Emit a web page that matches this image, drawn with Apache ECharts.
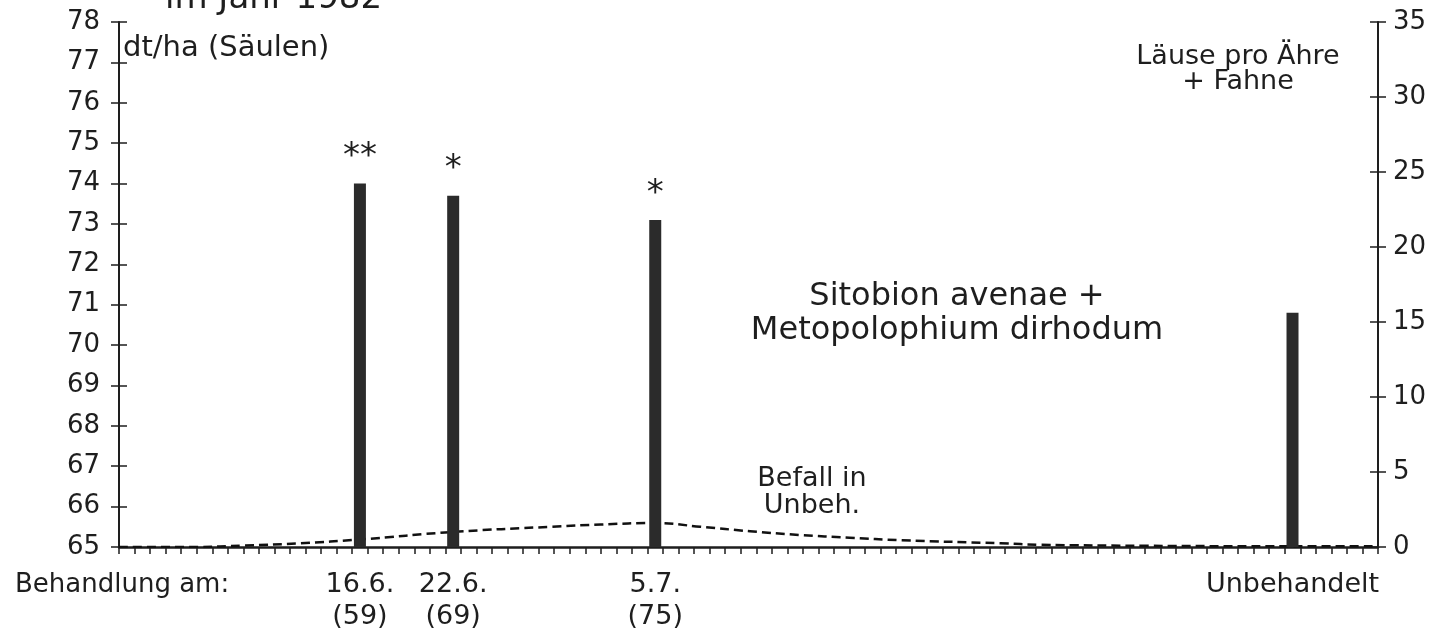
<!DOCTYPE html>
<html>
<head>
<meta charset="utf-8">
<script src="https://cdn.jsdelivr.net/npm/echarts@6/dist/echarts.min.js"></script>
<style>
  html, body { margin: 0; padding: 0; background: #fff; }
  #chart { width: 1435px; height: 639px; }
</style>
</head>
<body>
<div id="chart"></div>
<script>
// Ertrag in dt/ha (Säulen), x = Tag ab Achsbeginn
var barDays = [15.5, 21.5, 34.5, 75.5];
var barYield = [74.0, 73.7, 73.1, 70.8];
var barStars = ['**', '*', '*', ''];
var dateLabels = ['16.6.', '22.6.', '5.7.', 'Unbehandelt'];
var stageLabels = ['(59)', '(69)', '(75)', ''];

// Befall in Unbeh. (Läuse pro Ähre + Fahne)
var lineDays = [0, 5, 8, 11.7, 15.5, 21.4, 27.8, 31, 34.5, 37.4, 40.6, 43.8, 47, 50.3, 56.7, 59.3, 66, 75.5, 81];
var lineLice = [0, 0, 0.1, 0.25, 0.5, 1.0, 1.35, 1.5, 1.6, 1.35, 1.05, 0.8, 0.62, 0.45, 0.25, 0.15, 0.08, 0.05, 0.05];

var leftTicks = { min: 65, max: 78, interval: 1 };
var rightTicks = { min: 0, max: 35, interval: 5 };

var FONT = 'DejaVu Sans';
var INK = '#1e1e1e';

var chart = echarts.init(document.getElementById('chart'));

var axisText = { color: INK, fontFamily: FONT, fontSize: 26 };

var option = {
  animation: false,
  backgroundColor: '#fff',
  grid: { left: 119, right: 57, top: 22, bottom: 92, containLabel: false },
  xAxis: {
    type: 'value',
    min: 0,
    max: 81,
    interval: 1,
    splitLine: { show: false },
    axisLine: { lineStyle: { color: INK, width: 2.5 } },
    axisTick: { length: 7, lineStyle: { color: INK, width: 1.5 } },
    axisLabel: {
      customValues: barDays,
      margin: 22,
      lineHeight: 32,
      color: INK,
      fontFamily: FONT,
      fontSize: 27,
      formatter: function (v) {
        var i = barDays.indexOf(v);
        if (i < 0) return '';
        return stageLabels[i] ? dateLabels[i] + '\n' + stageLabels[i] : dateLabels[i];
      }
    }
  },
  yAxis: [
    {
      type: 'value', position: 'left',
      min: leftTicks.min, max: leftTicks.max, interval: leftTicks.interval,
      startValue: leftTicks.min,
      splitLine: { show: false },
      axisLine: { show: true, lineStyle: { color: INK, width: 2 } },
      axisTick: { show: true, length: 8, lineStyle: { color: INK, width: 1.5 } },
      axisLabel: Object.assign({ margin: 19 }, axisText)
    },
    {
      type: 'value', position: 'right',
      min: rightTicks.min, max: rightTicks.max, interval: rightTicks.interval,
      splitLine: { show: false },
      axisLine: { show: true, lineStyle: { color: INK, width: 2 } },
      axisTick: { show: true, length: 8, lineStyle: { color: INK, width: 1.5 } },
      axisLabel: Object.assign({ margin: 15 }, axisText)
    },
    // inner halves of the crossing ticks
    {
      type: 'value', position: 'left',
      min: leftTicks.min, max: leftTicks.max, interval: leftTicks.interval,
      splitLine: { show: false },
      axisLine: { show: false },
      axisTick: { show: true, inside: true, length: 8, lineStyle: { color: INK, width: 1.5 } },
      axisLabel: { show: false }
    },
    {
      type: 'value', position: 'right',
      min: rightTicks.min, max: rightTicks.max, interval: rightTicks.interval,
      splitLine: { show: false },
      axisLine: { show: false },
      axisTick: { show: true, inside: true, length: 8, lineStyle: { color: INK, width: 1.5 } },
      axisLabel: { show: false }
    }
  ],
  series: [
    {
      type: 'bar',
      yAxisIndex: 0,
      barWidth: 12,
      clip: true,
      itemStyle: { color: '#2b2b2b' },
      label: {
        show: true,
        position: 'top',
        distance: 9,
        color: INK,
        fontFamily: FONT,
        fontSize: 34,
        formatter: function (p) { return barStars[p.dataIndex]; }
      },
      data: barDays.map(function (d, i) { return [d, barYield[i]]; }),
      z: 3
    },
    {
      type: 'line',
      yAxisIndex: 1,
      smooth: 0.4,
      symbol: 'none',
      lineStyle: { color: '#111', width: 2.5, type: [9, 5] },
      data: lineDays.map(function (d, i) { return [d, lineLice[i]]; }),
      z: 2
    }
  ],
  graphic: [
    { type: 'text', x: 165, y: -1, style: { text: 'im Jahr 1982', fill: INK, font: '34px "DejaVu Sans"', verticalAlign: 'middle' } },
    { type: 'text', x: 123, y: 48, style: { text: 'dt/ha (Säulen)', fill: INK, font: '29px "DejaVu Sans"', verticalAlign: 'middle' } },
    { type: 'text', x: 1238, y: 44, style: { text: 'Läuse pro Ähre\n+ Fahne', fill: INK, font: '27px "DejaVu Sans"', align: 'center', verticalAlign: 'top', lineHeight: 25 } },
    { type: 'text', x: 957, y: 280, style: { text: 'Sitobion avenae +\nMetopolophium dirhodum', fill: INK, font: '32px "DejaVu Sans"', align: 'center', verticalAlign: 'top', lineHeight: 34 } },
    { type: 'text', x: 812, y: 465, style: { text: 'Befall in\nUnbeh.', fill: INK, font: '27px "DejaVu Sans"', align: 'center', verticalAlign: 'top', lineHeight: 27 } },
    { type: 'text', x: 15, y: 585, style: { text: 'Behandlung am:', fill: INK, font: '26px "DejaVu Sans"', verticalAlign: 'middle' } }
  ]
};

chart.setOption(option);
</script>
</body>
</html>
